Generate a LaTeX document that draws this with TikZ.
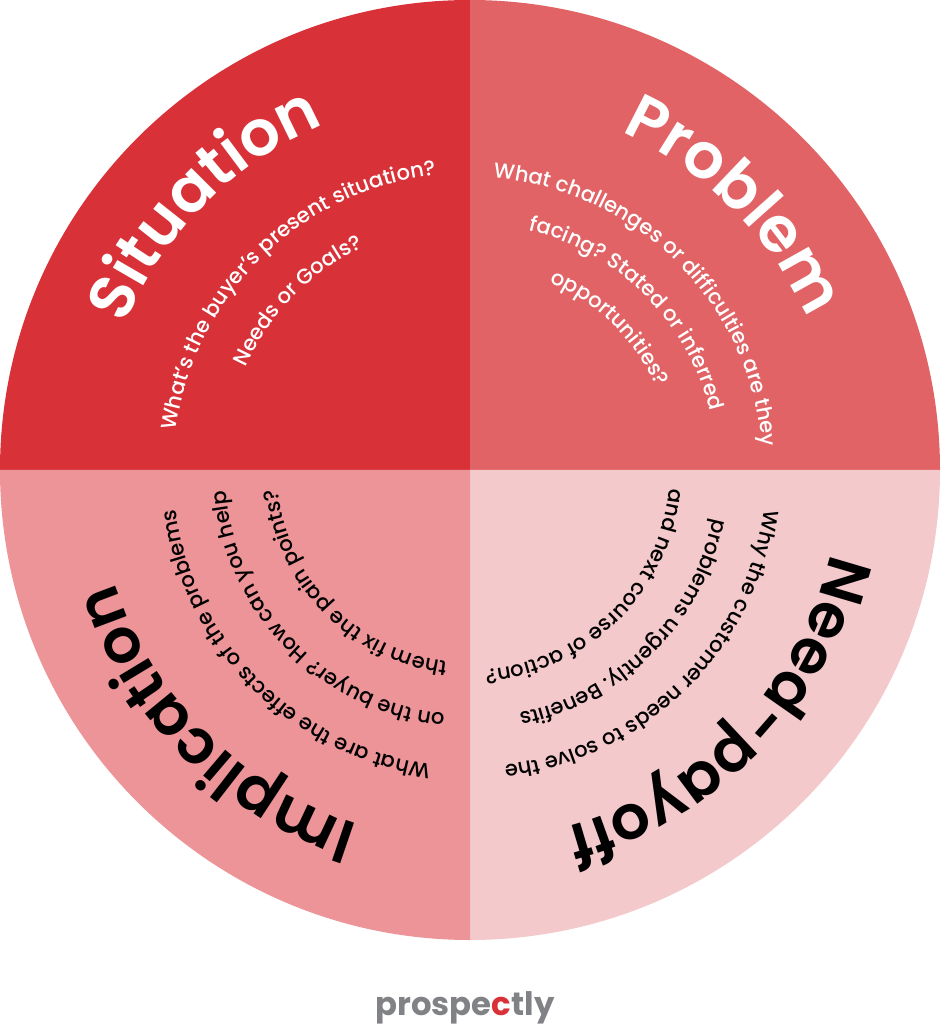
\documentclass[tikz,border=0pt]{standalone}
\usepackage{fontspec}
\usepackage{tikz}
\usetikzlibrary{decorations.text}
\setmainfont{Poppins}
\newfontfamily\headfont{Poppins SemiBold}
\newfontfamily\bodyfont{Poppins Medium}
\definecolor{wedgered}{RGB}{216, 49, 56}
\definecolor{wedgerose}{RGB}{225, 99, 102}
\definecolor{wedgepink}{RGB}{236, 148, 151}
\definecolor{wedgepale}{RGB}{244, 201, 203}
\definecolor{logogray}{RGB}{128, 130, 133}
\newcommand{\bendlabel}[5]{%
  \path[decorate, decoration={text along path, text align=center, text={|#1|#5}}]
    (#3:#2) arc[start angle=#3, end angle=#4, radius=#2];}
\newcommand{\whitehead}{\headfont\fontsize{36}{36}\selectfont\color{white}}
\newcommand{\blackhead}{\headfont\fontsize{35}{35}\selectfont\color{black}}
\newcommand{\whitebody}{\bodyfont\fontsize{12}{12}\selectfont\color{white}}
\newcommand{\blackbody}{\bodyfont\fontsize{12}{12}\selectfont\color{black}}

\begin{document}
\begin{tikzpicture}[x=0.02cm, y=0.02cm]
    \useasboundingbox (-470, -554) rectangle (470, 470);
    \fill[wedgered] (0, 0) -- (180:470) arc[start angle=180, end angle=90, radius=470] -- cycle;
    \fill[wedgerose] (0, 0) -- (90:470) arc[start angle=90, end angle=0, radius=470] -- cycle;
    \fill[wedgepale] (0, 0) -- (0:470) arc[start angle=0, end angle=-90, radius=470] -- cycle;
    \fill[wedgepink] (0, 0) -- (-90:470) arc[start angle=-90, end angle=-180, radius=470] -- cycle;
    % top left
    \bendlabel{\whitehead}{375}{165}{105}{Situation}
    \bendlabel{\whitebody}{297}{182}{87}{What’s the buyer’s present situation?}
    \bendlabel{\whitebody}{247}{170}{101}{Needs or Goals?}
    % top right
    \bendlabel{\whitehead}{370}{75}{15}{Problem}
    \bendlabel{\whitebody}{293}{95}{-5}{What challenges or difficulties are they}
    \bendlabel{\whitebody}{247}{85}{5}{facing? Stated or inferred}
    \bendlabel{\whitebody}{204}{80}{11}{opportunities?}
    % bottom right
    \bendlabel{\blackhead}{370}{-4}{-84}{Need-payoff}
    \bendlabel{\blackbody}{297}{2}{-93}{Why the customer needs to solve the}
    \bendlabel{\blackbody}{248}{-2}{-88}{problems urgently. Benefits}
    \bendlabel{\blackbody}{200}{5}{-96}{and next course of action?}
    % bottom left
    \bendlabel{\blackhead}{372}{-95}{-175}{Implication}
    \bendlabel{\blackbody}{297}{-87}{-183}{What are the effects of the problems}
    \bendlabel{\blackbody}{245}{-85}{-186}{on the buyer? How can you help}
    \bendlabel{\blackbody}{193}{-85}{-186}{them fix the pain points?}
    % logo
    \node[font=\bfseries\fontsize{18.4}{18.4}\selectfont, text=logogray, inner sep=0pt, anchor=base] (logo) at (-5, -545)
      {prospe{\color{wedgered}c}tly};
  \end{tikzpicture}
\end{document}
